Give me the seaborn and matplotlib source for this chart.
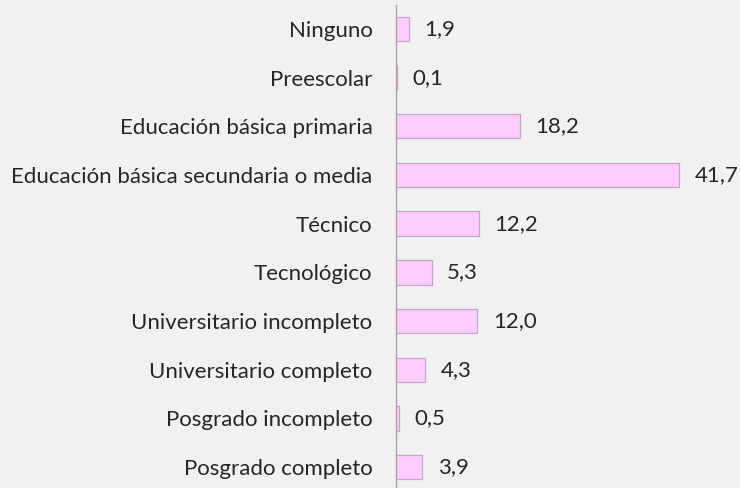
import matplotlib
matplotlib.use("Agg")
import matplotlib.pyplot as plt
import seaborn as sns
import pandas as pd

categorias = [
    "Ninguno",
    "Preescolar",
    "Educación básica primaria",
    "Educación básica secundaria o media",
    "Técnico",
    "Tecnológico",
    "Universitario incompleto",
    "Universitario completo",
    "Posgrado incompleto",
    "Posgrado completo",
]
porcentajes = [1.9, 0.1, 18.2, 41.7, 12.2, 5.3, 12.0, 4.3, 0.5, 3.9]

df = pd.DataFrame({"nivel": categorias, "pct": porcentajes})

sns.set_theme(style="white")
plt.rcParams["font.family"] = ["Lato", "DejaVu Sans"]

W, H = 740, 488
fig = plt.figure(figsize=(W / 100, H / 100), dpi=100)
fig.patch.set_facecolor("#f1f1f1")

# axes placed so the value axis starts at x=396 px
left_px, right_px = 396, 735.5
top_px, bot_px = 4.65, 491.35
ax = fig.add_axes([left_px / W, (H - bot_px) / H,
                   (right_px - left_px) / W, (bot_px - top_px) / H])
ax.set_facecolor("none")

sns.barplot(data=df, y="nivel", x="pct", orient="h", ax=ax,
            color="#ffccff", saturation=1, width=0.5,
            edgecolor="#c9a3c9", linewidth=0.9)

ax.set_xlim(0, 50)
ax.set_ylim(9.5, -0.5)
ax.set_xlabel("")
ax.set_ylabel("")
ax.set_xticks([])

for s in ["top", "right", "bottom"]:
    ax.spines[s].set_visible(False)
ax.spines["left"].set_color("#a6a6a6")
ax.spines["left"].set_linewidth(1.0)

ax.tick_params(axis="y", length=0, pad=17, labelsize=16, labelcolor="#262626")

etiquetas = [f"{v:.1f}".replace(".", ",") for v in porcentajes]
ax.bar_label(ax.containers[0], labels=etiquetas, padding=11,
             fontsize=16, color="#262626")

fig.savefig("out.png", dpi=100, facecolor=fig.get_facecolor())
